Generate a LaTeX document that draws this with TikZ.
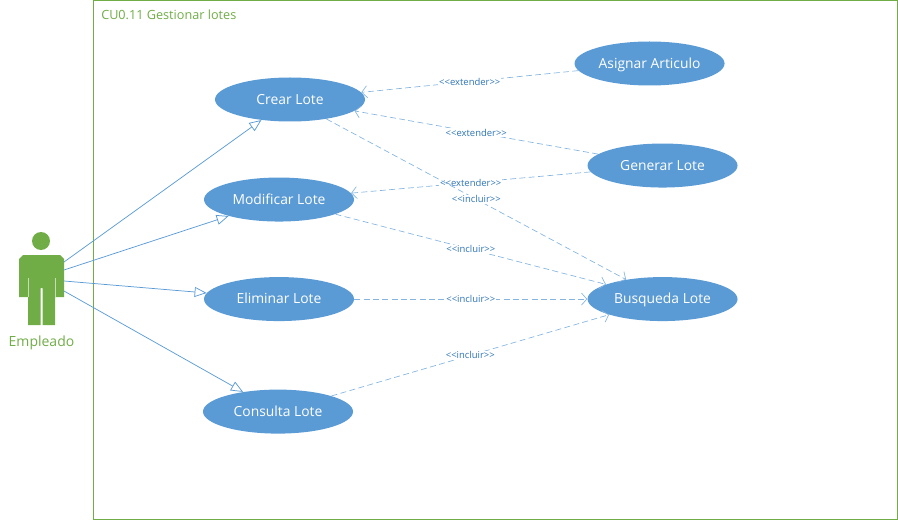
\documentclass[tikz,border=0pt]{standalone}
\usepackage{fontspec}
\setmainfont{Open Sans}
\usepackage{xcolor}
\usetikzlibrary{shapes.geometric, arrows.meta, positioning}

\definecolor{ucblue}{HTML}{5B9BD5}
\definecolor{ucgreen}{HTML}{70AD47}
\definecolor{uctext}{HTML}{2E75B6}

\begin{document}
\begin{tikzpicture}[
    x=0.75pt, y=-0.75pt,
    usecase/.style={ellipse, fill=ucblue, text=white, minimum width=112.5pt, minimum height=33pt, inner sep=0pt, text height=9pt, text depth=2pt, font=\fontsize{10.4}{12}\selectfont},
    assoc/.style={draw=ucblue, line width=0.55pt, -{Triangle[open, length=9pt, width=7.5pt, fill=white]}},
    depend/.style={draw=ucblue!75, line width=0.5pt, dash pattern=on 4.5pt off 2.5pt, -{Straight Barb[length=4pt, width=9pt]}},
    lab/.style={fill=white, inner sep=0.6pt, text=uctext, font=\fontsize{7.1}{8}\selectfont}
]
\useasboundingbox (0,0) rectangle (898,520);

% --- system frame ---
\node[draw=ucgreen, line width=0.75pt, minimum width=602.625pt, minimum height=388.875pt, inner sep=0pt, anchor=north west] (frame) at (93,0.5) {};
\node[text=ucgreen, anchor=west, inner sep=0pt, font=\fontsize{9.5}{10}\selectfont] (title) at (101,15) {CU0.11 Gestionar lotes};

% --- actor ---
\node[circle, fill=ucgreen, minimum size=13.5pt, inner sep=0pt] (head) at (41,241) {};
\fill[ucgreen] (23,255) -- (60,255) -- (64,259) -- (64,297) -- (55,297) -- (55,325) -- (42.5,325) -- (42.5,288) -- (40.5,288) -- (40.5,325) -- (28,325) -- (28,297) -- (19,297) -- (19,259) -- cycle;
\draw[white, opacity=0.6, line width=0.5pt] (28,278) -- (28,297) (55,278) -- (55,297);
\node[text=ucgreen, inner sep=0pt, font=\fontsize{10.5}{12}\selectfont] (actor) at (41.5,343) {Empleado};

% free ends on the actor
\coordinate (a1) at (64,262);
\coordinate (a2) at (64,270);
\coordinate (a3) at (64,281);
\coordinate (a4) at (64,291);

% --- left column ---
\node[usecase] (crear) at (290,99.5) {Crear Lote};
\node[usecase, below=41.625pt of crear, xshift=-8.25pt] (modificar) {Modificar Lote};
\node[usecase, below=41.25pt of modificar] (eliminar) {Eliminar Lote};
\node[usecase, below=51pt of eliminar, xshift=-0.75pt] (consulta) {Consulta Lote};

% --- right column ---
\node[usecase, right=156.75pt of crear, yshift=27pt] (asignar) {Asignar Articulo};
\node[usecase, below=43.125pt of asignar, xshift=9.75pt] (generar) {Generar Lote};
\node[usecase, below=66.75pt of generar] (busqueda) {Busqueda Lote};

% --- actor to use cases ---
\draw[assoc] (a1) to (crear);
\draw[assoc] (a2) to (modificar);
\draw[assoc] (a3) to (eliminar);
\draw[assoc] (a4) to (consulta);

% --- extender ---
\draw[depend] (asignar) to node[lab] {{<}{<}extender{>}{>}} (crear);
\draw[depend] (generar) to node[lab] {{<}{<}extender{>}{>}} (crear);
\draw[depend] (generar) to node[lab] {{<}{<}extender{>}{>}} (modificar);

% --- incluir ---
\draw[depend] (crear) to node[lab] {{<}{<}incluir{>}{>}} (busqueda);
\draw[depend] (modificar) to node[lab] {{<}{<}incluir{>}{>}} (busqueda);
\draw[depend] (eliminar) to node[lab] {{<}{<}incluir{>}{>}} (busqueda);
\draw[depend] (consulta) to node[lab] {{<}{<}incluir{>}{>}} (busqueda);

\end{tikzpicture}
\end{document}
